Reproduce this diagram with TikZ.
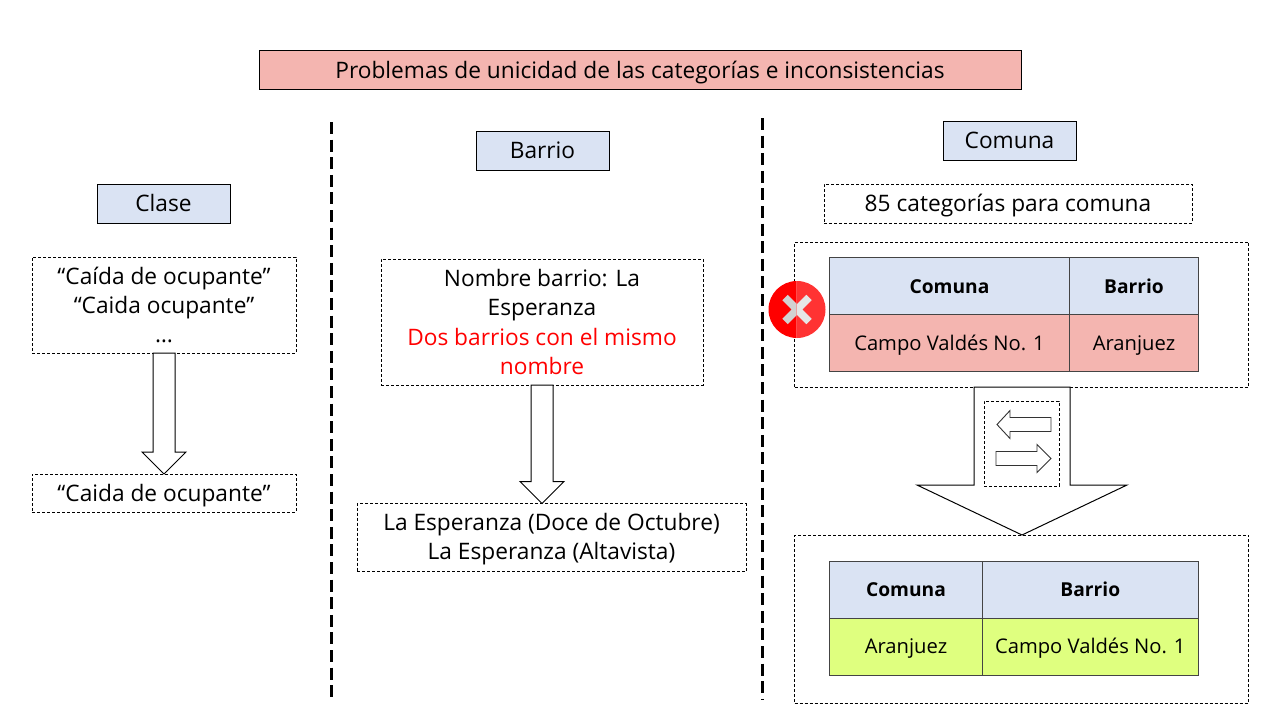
\documentclass[tikz,border=0pt]{standalone}
\usepackage{fontspec}
\setmainfont{Open Sans}
\usetikzlibrary{calc}
\definecolor{hdrblue}{HTML}{DAE3F3}
\definecolor{softred}{HTML}{F4B5B0}
\definecolor{softgreen}{HTML}{DFFF7F}
\definecolor{cellline}{HTML}{444444}
\definecolor{xright}{HTML}{E6E6E6}
\definecolor{xleft}{HTML}{D2D2D2}
\definecolor{redright}{HTML}{FF3333}
\newcommand{\txt}{\fontsize{22.7}{29.4}\selectfont}
\newcommand{\celltxt}{\fontsize{20.2}{26}\selectfont}
\newcommand{\headtxt}{\fontsize{19.2}{26}\selectfont\bfseries}
\tikzset{
  base/.style={inner sep=0pt,outer sep=0pt,align=center,font=\txt},
  oneline/.style={text height=18pt,text depth=1.5pt},
  solidbox/.style={base,oneline,draw=black,line width=0.9pt,fill=hdrblue},
  dashbox/.style={base,draw=black,line width=0.8pt,dash pattern=on 3pt off 2pt},
  cell/.style={base,draw=cellline,line width=1pt,font=\celltxt,text height=15pt,text depth=1pt},
  headcell/.style={cell,fill=hdrblue,font=\headtxt},
  divider/.style={draw=black,line width=3pt,dash pattern=on 12pt off 5.6pt},
  blockarrow/.style={draw=black,line width=1pt,fill=white,line join=miter},
  smallarrow/.style={draw=black!80,line width=0.9pt,fill=white,line join=miter}
}
% \downarrowblock{from}{to}{x}{shaft half width}{head half width}{head length}
\newcommand{\downarrowblock}[6]{%
  \path[blockarrow] let \p1=(#1.south), \p2=(#2.north) in
    (#3-#4,\y1) -- (#3+#4,\y1) -- (#3+#4,\y2+#6) -- (#3+#5,\y2+#6) -- (#3,\y2)
    -- (#3-#5,\y2+#6) -- (#3-#4,\y2+#6) -- cycle;}
\begin{document}
\begin{tikzpicture}[x=1pt,y=-1pt]
\useasboundingbox (0,0) rectangle (1280,720);
\fill[white] (0,0) rectangle (1280,720);

% title
\node[solidbox,fill=softred,minimum width=762,minimum height=39] (title) at (640,70) {Problemas de unicidad de las categorías e inconsistencias};

% dividers
\coordinate (d1a) at (331,122); \coordinate (d1b) at (331,701);
\coordinate (d2a) at (762,118); \coordinate (d2b) at (762,699);
\draw[divider] (d1a) -- (d1b);
\draw[divider] (d2a) -- (d2b);

% column headers
\node[solidbox,minimum width=133,minimum height=39] (clase) at (163.5,203.5) {Clase};
\node[solidbox,minimum width=133,minimum height=39] (barrio) at (542.5,150.5) {Barrio};
\node[solidbox,minimum width=133,minimum height=39] (comuna) at (1009.5,140.5) {Comuna};

% column 1
\node[dashbox,minimum width=264,minimum height=96] (c1top) at (164,305) {“Caída de ocupante”\\“Caida ocupante”\\…};
\node[dashbox,oneline,minimum width=264,minimum height=38] (c1bot) at (164,493) {“Caida de ocupante”};
\downarrowblock{c1top}{c1bot}{164}{11}{22}{22}

% column 2
\node[dashbox,minimum width=322,minimum height=126] (c2top) at (542,322) {Nombre barrio: La\\Esperanza\\\textcolor{red}{Dos barrios con el mismo}\\\textcolor{red}{nombre}};
\node[dashbox,minimum width=389,minimum height=68,text height=44pt,text depth=0pt] (c2bot) at (551.5,537.5) {La Esperanza (Doce de Octubre)\\La Esperanza (Altavista)};
\downarrowblock{c2top}{c2bot}{542}{11}{22}{22}

% column 3
\node[dashbox,oneline,minimum width=368,minimum height=39] (cats) at (1008,203.5) {85 categorías para comuna};
\node[dashbox,minimum width=454,minimum height=145] (t1box) at (1021.5,314.5) {};
\node[dashbox,minimum width=454,minimum height=168] (t2box) at (1021.5,619) {};
\downarrowblock{t1box}{t2box}{1022}{48}{105}{50}

% upper table
\node[headcell,minimum width=240,minimum height=56.5] (a11) at (949.5,286) {Comuna};
\node[headcell,minimum width=128.5,minimum height=56.5] (a12) at (1134,286) {Barrio};
\node[cell,fill=softred,minimum width=240,minimum height=57.5] (a21) at (949.5,343) {Campo Valdés No. 1};
\node[cell,fill=softred,minimum width=128.5,minimum height=57.5] (a22) at (1134,343) {Aranjuez};

% lower table
\node[headcell,minimum width=153,minimum height=57] (b11) at (906,589.5) {Comuna};
\node[headcell,minimum width=215.5,minimum height=57] (b12) at (1090.3,589.5) {Barrio};
\node[cell,fill=softgreen,minimum width=153,minimum height=57] (b21) at (906,646.5) {Aranjuez};
\node[cell,fill=softgreen,minimum width=215.5,minimum height=57] (b22) at (1090.3,646.5) {Campo Valdés No. 1};

% swap symbol
\node[dashbox,minimum width=75,minimum height=85] (swap) at (1021.5,443.5) {};
\draw[smallarrow] (997,424.5) -- (1010,410.5) -- (1010,417.5) -- (1051,417.5) -- (1051,431.5) -- (1010,431.5) -- (1010,438.5) -- cycle;
\draw[smallarrow] (1051,458.5) -- (1037,444.5) -- (1037,451.5) -- (996,451.5) -- (996,465.5) -- (1037,465.5) -- (1037,472.5) -- cycle;

% error icon
\begin{scope}
\clip (768,280) rectangle (796.5,340);
\fill[red] (797,309.5) circle[radius=28.5];
\draw[xleft,line width=7.5pt] (785,297.5) -- (809,321.5) (809,297.5) -- (785,321.5);
\end{scope}
\begin{scope}
\clip (796.5,280) rectangle (826,340);
\fill[redright] (797,309.5) circle[radius=28.5];
\draw[xright,line width=7.5pt] (785,297.5) -- (809,321.5) (809,297.5) -- (785,321.5);
\end{scope}
\end{tikzpicture}
\end{document}
